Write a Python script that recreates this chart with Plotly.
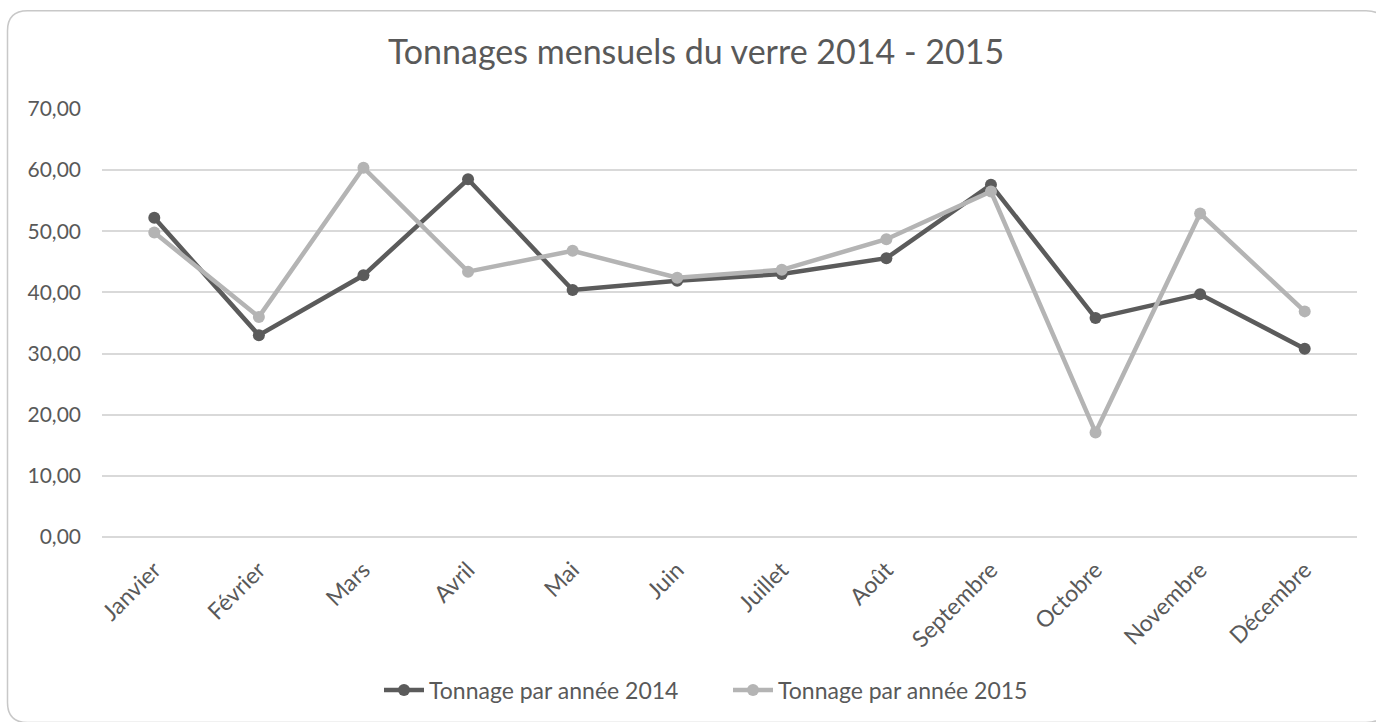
import plotly.graph_objects as go

months = ["Janvier", "Février", "Mars", "Avril", "Mai", "Juin", "Juillet",
          "Août", "Septembre", "Octobre", "Novembre", "Décembre"]
tonnage_2014 = [52.2, 33.0, 42.8, 58.5, 40.4, 41.9, 43.0, 45.6, 57.6, 35.8, 39.7, 30.8]
tonnage_2015 = [49.8, 36.0, 60.4, 43.4, 46.8, 42.4, 43.7, 48.7, 56.5, 17.1, 52.9, 36.9]
series_names = ["Tonnage par année 2014", "Tonnage par année 2015"]
title_text = "Tonnages mensuels du verre 2014 - 2015"

W, H = 1376, 722
ML, MR, MT, MB = 102, 19, 109, 184
PW, PH = W - ML - MR, H - MT - MB

FONT = "Lato, 'Open Sans', sans-serif"
TXT = "#595959"
DARK = "#5B5B5B"
LIGHT = "#B4B4B4"

fig = go.Figure()
fig.add_trace(go.Scatter(x=months, y=tonnage_2014, name=series_names[0],
                         mode="lines+markers",
                         line=dict(color=DARK, width=4.5),
                         marker=dict(color=DARK, size=12)))
fig.add_trace(go.Scatter(x=months, y=tonnage_2015, name=series_names[1],
                         mode="lines+markers",
                         line=dict(color=LIGHT, width=4.5),
                         marker=dict(color=LIGHT, size=12)))


def px(x):
    return (x - ML) / PW


def py(y):
    return (MT + PH - y) / PH


# rounded chart-area border (in pixel space converted to paper)
x0, y0, x1, y1, r = 7.5, 10.5, 1386, 724, 20
path = (f"M {px(x0 + r)} {py(y0)} L {px(x1 - r)} {py(y0)} "
        f"Q {px(x1)} {py(y0)} {px(x1)} {py(y0 + r)} L {px(x1)} {py(y1 - r)} "
        f"Q {px(x1)} {py(y1)} {px(x1 - r)} {py(y1)} L {px(x0 + r)} {py(y1)} "
        f"Q {px(x0)} {py(y1)} {px(x0)} {py(y1 - r)} L {px(x0)} {py(y0 + r)} "
        f"Q {px(x0)} {py(y0)} {px(x0 + r)} {py(y0)} Z")

fig.update_layout(
    width=W, height=H,
    margin=dict(l=ML, r=MR, t=MT, b=MB, pad=0),
    paper_bgcolor="white", plot_bgcolor="white",
    separators=", ",
    font=dict(family=FONT, color=TXT, size=21),
    title=dict(text=title_text, x=696 / W, xref="container", xanchor="center",
               y=1 - 52 / H, yanchor="middle",
               font=dict(family=FONT, size=34, color=TXT)),
    showlegend=True,
    legend=dict(orientation="h", x=px(728), xanchor="center",
                y=py(690), yanchor="middle",
                font=dict(family=FONT, size=23, color=TXT),
                itemwidth=40, entrywidth=294, bgcolor="rgba(0,0,0,0)"),
    shapes=[dict(type="path", path=path, xref="paper", yref="paper",
                 line=dict(color="#C8C8C8", width=1.5), layer="below")],
    hovermode=False,
)
fig.update_xaxes(type="category", range=[-0.5, 11.5], tickangle=-45,
                 showgrid=False, showline=False, zeroline=False, ticks="",
                 tickfont=dict(family=FONT, size=23, color=TXT),
                 ticklabelstandoff=14)
fig.update_yaxes(range=[0, 70], dtick=10, tickformat=".2f",
                 showgrid=True, gridcolor="#D9D9D9", gridwidth=1.5,
                 zeroline=True, zerolinecolor="#D9D9D9", zerolinewidth=1.5,
                 showline=False, ticks="",
                 tickfont=dict(family=FONT, size=21, color=TXT),
                 ticklabelstandoff=20)

fig.write_html("out.html", config={"displayModeBar": False},
               post_script="document.body.style.margin='0';")
